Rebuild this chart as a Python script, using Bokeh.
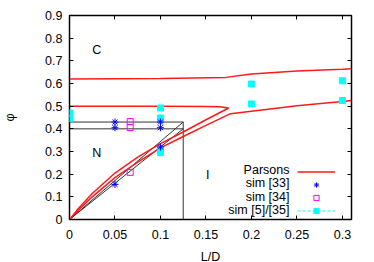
from bokeh.plotting import figure
from bokeh.models import (Range1d, FixedTicker, LinearAxis, Label, Legend, LegendItem,
                          CustomJSTickFormatter)
from bokeh.embed import file_html
from bokeh.resources import INLINE

# ---- data ----
x_ticks = [0, 0.05, 0.1, 0.15, 0.2, 0.25, 0.3]
x_tick_labels = ["0", "0.05", "0.1", "0.15", "0.2", "0.25", "0.3"]
y_ticks = [0, 0.1, 0.2, 0.3, 0.4, 0.5, 0.6, 0.7, 0.8, 0.9]
y_tick_labels = ["0", "0.1", "0.2", "0.3", "0.4", "0.5", "0.6", "0.7", "0.8", "0.9"]

# Parsons boundaries
parsons_top_x = [0, 0.1, 0.172, 0.2, 0.25, 0.3, 0.31]
parsons_top_y = [0.62, 0.622, 0.627, 0.642, 0.655, 0.663, 0.665]
parsons_mid_x = [0, 0.05, 0.1, 0.15, 0.165, 0.175, 0.15, 0.125, 0.1, 0.075, 0.05, 0.025, 0.01, 0]
parsons_mid_y = [0.5, 0.5, 0.5, 0.499, 0.497, 0.492, 0.44, 0.386, 0.335, 0.275, 0.205, 0.115, 0.05, 0]
parsons_low_x = [0, 0.01, 0.025, 0.05, 0.075, 0.1, 0.125, 0.15, 0.177, 0.2, 0.25, 0.3, 0.31]
parsons_low_y = [0, 0.042, 0.1, 0.185, 0.253, 0.316, 0.366, 0.415, 0.467, 0.478, 0.502, 0.521, 0.525]

# black guide lines
box_x = [0, 0.125, 0.125]
box_y = [0.43, 0.43, 0]
hline_x = [0, 0.125]
hline_y = [0.40, 0.40]
diag1_x = [0, 0.125]
diag1_y = [0, 0.43]
diag2_x = [0, 0.125]
diag2_y = [0, 0.40]

# simulations
sim33_x = [0.05, 0.05, 0.05, 0.1, 0.1, 0.1]
sim33_y = [0.43, 0.405, 0.155, 0.43, 0.405, 0.32]
sim34_x = [0.0667, 0.0667, 0.0667]
sim34_y = [0.432, 0.406, 0.208]
sim35_x = [0, 0, 0.1, 0.1, 0.1, 0.1, 0.2, 0.2, 0.3, 0.3]
sim35_y = [0.47, 0.445, 0.492, 0.448, 0.306, 0.295, 0.598, 0.51, 0.612, 0.525]

legend_labels = ["Parsons", "sim [33]", "sim [34]", "sim [5]/[35]"]

FONT = "Liberation Sans"
FS = "12.5px"
RED = "#ff1a1a"
BLUE = "#0000ff"
MAG = "#ff00ff"
CYAN = "#00ffff"
NAN = float("nan")

p = figure(frame_width=282, frame_height=204, output_backend="svg", toolbar_location=None,
           x_range=Range1d(0, 0.31), y_range=Range1d(0, 0.9),
           min_border_left=0, min_border_right=15, min_border_top=15, min_border_bottom=0)
p.xgrid.visible = False
p.ygrid.visible = False
p.outline_line_color = "black"
p.outline_line_width = 1.5
p.background_fill_color = "white"
p.border_fill_color = "white"

def style_axis(ax, ticks, labels, show):
    ax.ticker = FixedTicker(ticks=ticks)
    ax.major_tick_in = 4
    ax.major_tick_out = 0
    ax.minor_tick_line_color = None
    ax.axis_line_color = None
    ax.major_tick_line_color = "black"
    ax.major_tick_line_width = 1
    if show:
        ax.major_label_overrides = {t: l for t, l in zip(ticks, labels)}
        ax.major_label_text_font = FONT
        ax.major_label_text_font_size = FS
        ax.major_label_text_color = "black"
        ax.axis_label_text_font = FONT
        ax.axis_label_text_font_size = FS
        ax.axis_label_text_font_style = "normal"
        ax.axis_label_text_color = "black"
    else:
        ax.formatter = CustomJSTickFormatter(code="return ''")
        ax.major_label_text_color = None

style_axis(p.xaxis[0], x_ticks, x_tick_labels, True)
style_axis(p.yaxis[0], y_ticks, y_tick_labels, True)
p.xaxis[0].axis_label = "L/D"
p.xaxis[0].major_label_standoff = 10
p.xaxis[0].axis_label_standoff = 8
p.yaxis[0].axis_label = "φ"
p.yaxis[0].major_label_standoff = 7
p.yaxis[0].axis_label_standoff = 25

top_ax = LinearAxis()
right_ax = LinearAxis()
style_axis(top_ax, x_ticks, x_tick_labels, False)
style_axis(right_ax, y_ticks, y_tick_labels, False)
top_ax.major_label_standoff = 0
right_ax.major_label_standoff = 0
p.add_layout(top_ax, "above")
p.add_layout(right_ax, "right")

# black guides
for gx, gy in [(box_x, box_y), (hline_x, hline_y), (diag1_x, diag1_y), (diag2_x, diag2_y)]:
    p.line(gx, gy, line_color="#333333", line_width=1)

# Parsons
r_par = p.line(parsons_top_x, parsons_top_y, line_color=RED, line_width=1.5)
p.line(parsons_mid_x, parsons_mid_y, line_color=RED, line_width=1.5)
p.line(parsons_low_x, parsons_low_y, line_color=RED, line_width=1.5)

# simulations
r35 = p.scatter(sim35_x, sim35_y, marker="square", size=6, fill_color=CYAN, line_color=CYAN)
r34 = p.scatter(sim34_x, sim34_y, marker="square", size=6, fill_color=None, line_color=MAG, line_width=1)
r33 = p.scatter(sim33_x, sim33_y, marker="asterisk", size=7, line_color=BLUE, line_width=1)

# dashed key line for the last legend entry (no visible data)
lg_line = p.line([NAN, NAN], [NAN, NAN], line_color=CYAN, line_width=1, line_dash="3 2")

legend = Legend(items=[
    LegendItem(label=" ", renderers=[r_par]),
    LegendItem(label=" ", renderers=[r33]),
    LegendItem(label=" ", renderers=[r34]),
    LegendItem(label=" ", renderers=[lg_line, r35]),
], location=(228, 2), padding=0, margin=0, spacing=0, glyph_width=38, glyph_height=13,
    label_standoff=0, label_width=0, label_height=13, label_text_font_size="8px",
    border_line_color=None, background_fill_alpha=0)
p.add_layout(legend, "center")

# legend texts
leg_y = [0.217, 0.159, 0.099, 0.040]
for lab, ly in zip(legend_labels, leg_y):
    p.add_layout(Label(x=0.2418, y=ly, text=lab, text_align="right", text_baseline="middle",
                       text_font=FONT, text_font_size=FS, text_color="black"))

# region labels
for t, lx, ly in [("C", 0.03, 0.75), ("N", 0.03, 0.295), ("I", 0.152, 0.198)]:
    p.add_layout(Label(x=lx, y=ly, text=t, text_align="center", text_baseline="middle",
                       text_font=FONT, text_font_size=FS, text_color="black"))

open("out.html", "w").write(file_html(p, INLINE))
